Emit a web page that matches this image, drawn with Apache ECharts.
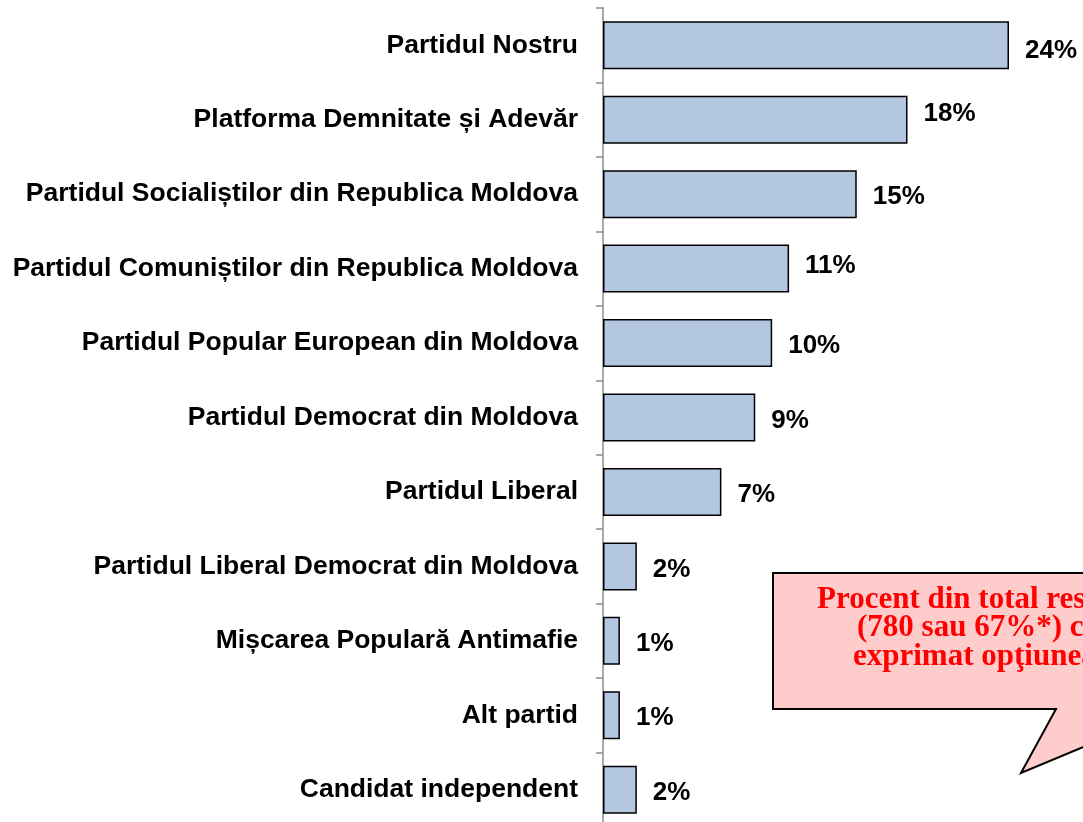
<!DOCTYPE html>
<html>
<head>
<meta charset="utf-8">
<script src="https://cdn.jsdelivr.net/npm/echarts@6/dist/echarts.min.js"></script>
<style>
    html, body { margin: 0; padding: 0; background: #fff; overflow: hidden; }
    #chart { width: 1083px; height: 830px; }
</style>
</head>
<body>
<div id="chart"></div>
<script type="text/javascript">
// partide (de sus in jos)
var parties = [
    'Partidul Nostru',
    'Platforma Demnitate și Adevăr',
    'Partidul Socialiștilor din Republica Moldova',
    'Partidul Comuniștilor din Republica Moldova',
    'Partidul Popular European din Moldova',
    'Partidul Democrat din Moldova',
    'Partidul Liberal',
    'Partidul Liberal Democrat din Moldova',
    'Mișcarea Populară Antimafie',
    'Alt partid',
    'Candidat independent'
];
var percents = [24, 18, 15, 11, 10, 9, 7, 2, 1, 1, 2];
// etichetele nu sunt toate centrate pe bara in original
var labelShiftY = [6, -6, 3, -3, 3, 3, 3, 3, 3, 3, 3];

var calloutLines = [
    'Procent din total respondenţi',
    '(780 sau 67%*) care au',
    'exprimat opţiunea de vot'
];

var chart = echarts.init(document.getElementById('chart'));

var barData = percents.map(function (v, i) {
    return {
        value: v,
        label: { offset: [0, labelShiftY[i]] }
    };
});

var calloutText = calloutLines.map(function (line, i) {
    var xs = [817, 857, 853];
    return {
        type: 'text',
        left: xs[i],
        top: 584 + i * 28.5,
        z: 101,
        style: {
            text: line,
            fill: '#ff0000',
            font: 'bold 31px "Liberation Serif", "Times New Roman", serif'
        }
    };
});

chart.setOption({
    animation: false,
    grid: {
        left: 603,
        right: 74,
        top: 8,
        bottom: 3
    },
    xAxis: {
        type: 'value',
        min: 0,
        max: 24,
        show: false
    },
    yAxis: {
        type: 'category',
        inverse: true,
        data: parties,
        axisLine: { lineStyle: { color: '#8c8c8c', width: 1.5 } },
        axisTick: { show: true, length: 7, lineStyle: { color: '#8c8c8c', width: 1.5 } },
        axisLabel: {
            margin: 25,
            color: '#000',
            fontFamily: '"Liberation Sans", Arial, sans-serif',
            fontWeight: 'bold',
            fontSize: 26.5,
            padding: [3, 0, 0, 0]
        }
    },
    series: [
        {
            type: 'bar',
            data: barData,
            barWidth: 48,
            itemStyle: {
                color: '#b3c7e1',
                borderColor: '#000',
                borderWidth: 1.5
            },
            label: {
                show: true,
                position: 'right',
                distance: 16,
                formatter: '{c}%',
                color: '#000',
                fontFamily: '"Liberation Sans", Arial, sans-serif',
                fontWeight: 'bold',
                fontSize: 26
            }
        }
    ],
    graphic: [
        {
            type: 'polygon',
            z: 100,
            shape: {
                points: [[773, 573], [1100, 573], [1100, 740], [1021, 773], [1056, 709], [773, 709]]
            },
            style: {
                fill: '#ffcccc',
                stroke: '#000',
                lineWidth: 2
            }
        }
    ].concat(calloutText)
});
</script>
</body>
</html>
